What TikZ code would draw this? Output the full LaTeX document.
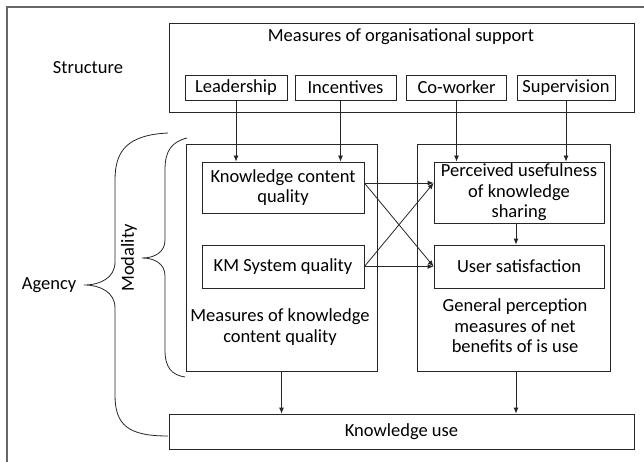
\documentclass[tikz,border=0pt]{standalone}
\usepackage{fontspec}
\setmainfont{Carlito}
\usetikzlibrary{arrows.meta}
\begin{document}
\begin{tikzpicture}[x=1pt,y=-1pt,
  every node/.style={font=\fontsize{18.5}{20.5}\selectfont, inner sep=0pt},
  box/.style={draw=black!85, line width=0.8pt, rectangle, anchor=center},
  txt/.style={align=center},
  arr/.style={draw=black!85, line width=0.8pt, -{Latex[length=6pt,width=5pt]}},
  brace/.style={draw=black!85, line width=0.8pt}]
\useasboundingbox (0,0) rectangle (644,462);
% outer frame (cropped)
\draw[gray!80!black, line width=1.1pt] (7,462) -- (7,7) -- (644,7);

% organisational support
\node[box, minimum width=465pt, minimum height=89pt] (org) at (401.5,67.5) {};
\node[txt] (orgt) at (401,37) {Measures of organisational support};
\node[txt] (struct) at (88,68) {Structure};
\node[box, minimum width=102pt, minimum height=25pt] (lead) at (236,87.5) {Leadership};
\node[box, minimum width=101pt, minimum height=25pt] (inc) at (345.5,87.5) {Incentives};
\node[box, minimum width=100pt, minimum height=25pt] (cow) at (456.5,87.5) {Co-worker};
\node[box, minimum width=98pt, minimum height=25pt] (sup) at (566,87.5) {Supervision};

% big boxes
\node[box, minimum width=191pt, minimum height=227pt] (lbox) at (281.5,257.5) {};
\node[box, minimum width=193pt, minimum height=227pt] (rbox) at (513.5,257.5) {};
\node[txt] (ltxt) at (280,327) {Measures of knowledge\\content quality};
\node[txt] (rtxt) at (515,326) {General perception\\measures of net\\benefits of is use};

% inner boxes
\node[box, txt, minimum width=162pt, minimum height=51pt] (kcq) at (283,187.5) {Knowledge content\\quality};
\node[box, txt, minimum width=162pt, minimum height=43pt] (kms) at (283,266.5) {KM System quality};
\node[box, txt, minimum width=170pt, minimum height=61pt] (pu) at (519,192.5) {Perceived usefulness\\of knowledge\\sharing};
\node[box, txt, minimum width=170pt, minimum height=43pt] (us) at (519,266.5) {User satisfaction};

% knowledge use
\node[box, minimum width=465pt, minimum height=35pt] (ku) at (401.5,431.5) {Knowledge use};

% side labels
\node[txt] (agency) at (49,285) {Agency};
\node[txt, rotate=90] (modality) at (129,258) {Modality};

% arrows from support measures
\draw[arr] (lead.south) -- (lead.south |- kcq.north);
\coordinate (incs) at ([xshift=-5pt]inc.south);
\draw[arr] (incs) -- (incs |- kcq.north);
\draw[arr] (cow.south) -- (cow.south |- pu.north);
\draw[arr] (sup.south) -- (sup.south |- pu.north);

% cross arrows
\coordinate (a1) at ([yshift=4.5pt]kcq.east);
\coordinate (a2) at (kms.east);
\draw[arr] (a1) -- (a1 -| pu.west);
\draw[arr] (a1) -- (a2 -| us.west);
\draw[arr] (a2) -- (a1 -| pu.west);
\draw[arr] (a2) -- (a2 -| us.west);
\draw[arr] ([xshift=-3pt]pu.south) -- ([xshift=-3pt]us.north);

% down arrows
\draw[arr] (lbox.south) -- (lbox.south |- ku.north);
\coordinate (rbs) at ([xshift=2.5pt]rbox.south);
\draw[arr] (rbs) -- (rbs |- ku.north);

% braces
\draw[brace] (168,133) .. controls (128,135) and (115,150) .. (115,180) -- (115,262)
  .. controls (115,278) and (100,285) .. (84,285)
  .. controls (100,285) and (115,292) .. (115,308) -- (115,395)
  .. controls (115,425) and (128,436) .. (168,436);
\draw[brace] (187,138) .. controls (172,142) and (165,150) .. (165,170) -- (165,240)
  .. controls (165,252) and (155,258) .. (142,258)
  .. controls (155,258) and (165,264) .. (165,276) -- (165,350)
  .. controls (165,368) and (172,375) .. (185,377);
\end{tikzpicture}
\end{document}
